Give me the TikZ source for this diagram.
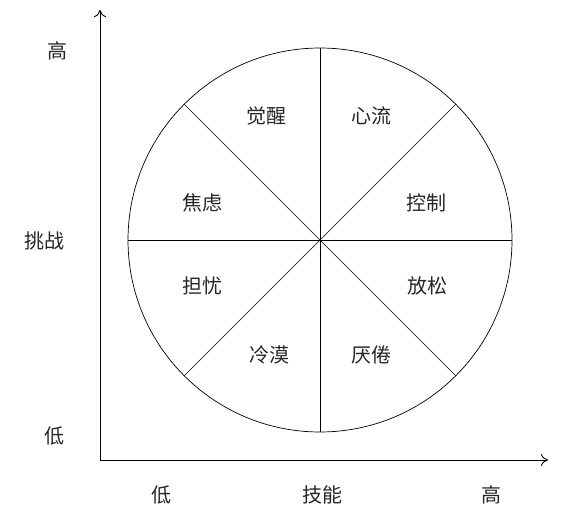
\documentclass[tikz,border=0pt]{standalone}
\usepackage{fontspec}
\newfontfamily\cjk{Noto Sans CJK SC}
\usetikzlibrary{arrows.meta}
\begin{document}
\begin{tikzpicture}[x=1pt,y=-1pt,
  lbl/.style={font=\cjk\fontsize{20}{20}\selectfont, text=black!85, inner sep=0pt},
  axis/.style={line width=0.9pt, -{To[length=7pt,width=12pt]}},
  seg/.style={line width=0.7pt}]
\useasboundingbox (0,0) rectangle (566,519);
\coordinate (O) at (100,460);
\coordinate (yend) at (100,10);
\coordinate (xend) at (548,460);
\draw[axis] (O) -- (yend);
\draw[axis] (O) -- (xend);
\coordinate (C) at (320,240);
\draw[seg] (C) circle[radius=192];
\foreach \a in {0,45,...,315}{
  \draw[seg] (C) -- ++(\a:192);
}
\node[lbl] (hi) at (58,51) {高};
\node[lbl] (tz) at (44,241) {挑战};
\node[lbl] (lo) at (55,436) {低};
\node[lbl] (blo) at (161,495) {低};
\node[lbl] (jn) at (322,495) {技能};
\node[lbl] (bhi) at (491,495) {高};
\node[lbl] (a1) at (266,116) {觉醒};
\node[lbl] (a2) at (371,116) {心流};
\node[lbl] (a3) at (202,203) {焦虑};
\node[lbl] (a4) at (426,203) {控制};
\node[lbl] (a5) at (202,286) {担忧};
\node[lbl] (a6) at (427,286) {放松};
\node[lbl] (a7) at (269,355) {冷漠};
\node[lbl] (a8) at (371,355) {厌倦};
\end{tikzpicture}
\end{document}
